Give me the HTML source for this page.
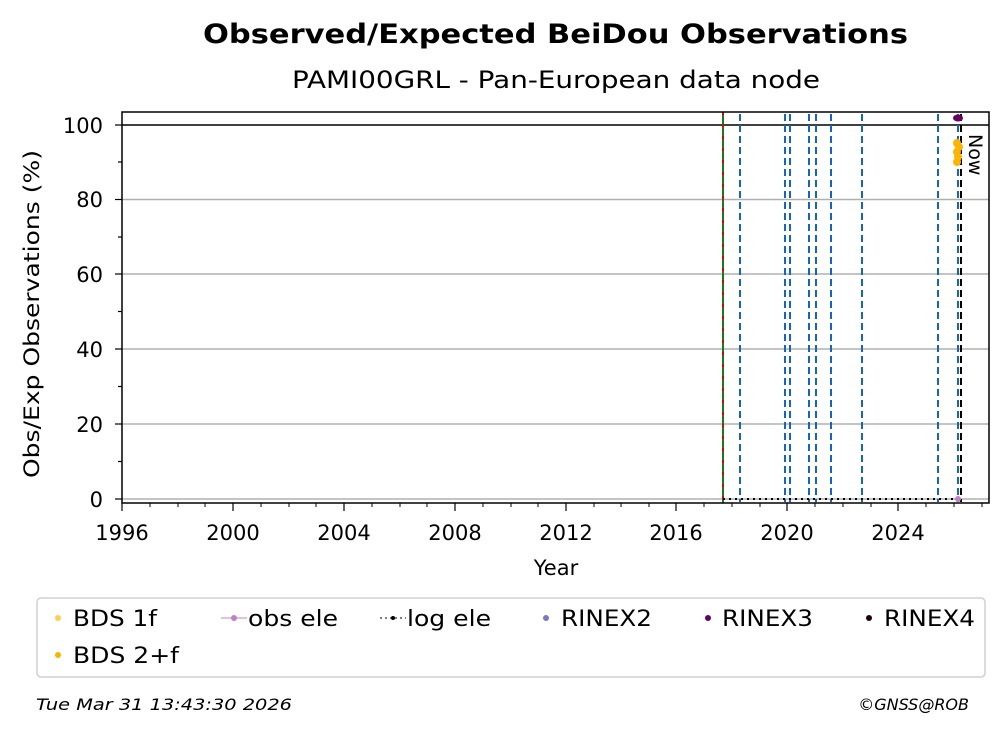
<!DOCTYPE html>
<html><head><meta charset="utf-8"><style>body{margin:0;background:#fff}svg{display:block}text{font-family:"DejaVu Sans","Liberation Sans",sans-serif}</style></head>
<body>
<svg width="1008" height="734" xmlns="http://www.w3.org/2000/svg">
<text x="203" y="43" font-size="27" font-weight="bold" textLength="705" lengthAdjust="spacingAndGlyphs">Observed/Expected BeiDou Observations</text>
<text x="292" y="88" font-size="24" textLength="528" lengthAdjust="spacingAndGlyphs">PAMI00GRL - Pan-European data node</text>
<g stroke="#b0b0b0" stroke-width="1.5">
<line x1="122" x2="989" y1="499" y2="499"/><line x1="122" x2="989" y1="424" y2="424"/><line x1="122" x2="989" y1="349" y2="349"/><line x1="122" x2="989" y1="274" y2="274"/><line x1="122" x2="989" y1="199.5" y2="199.5"/>
</g>
<line x1="122" x2="989" y1="125" y2="125" stroke="#000" stroke-width="1.5"/>
<g stroke="#1565c0" stroke-width="2" stroke-dasharray="7,4">
<line x1="740" x2="740" y1="114" y2="502"/><line x1="785" x2="785" y1="114" y2="502"/><line x1="790" x2="790" y1="114" y2="502"/><line x1="809" x2="809" y1="114" y2="502"/><line x1="816" x2="816" y1="114" y2="502"/><line x1="831" x2="831" y1="114" y2="502"/><line x1="862" x2="862" y1="114" y2="502"/><line x1="938" x2="938" y1="114" y2="502"/><line x1="958" x2="958" y1="114" y2="502"/>
</g>
<line x1="723" x2="723" y1="112" y2="503" stroke="#1a7a1a" stroke-width="2"/>
<line x1="723" x2="723" y1="112" y2="503" stroke="#e00000" stroke-width="2" stroke-dasharray="3,9"/>
<line x1="961" x2="961" y1="114" y2="502" stroke="#000" stroke-width="2" stroke-dasharray="7,4"/>
<line x1="723" x2="960" y1="499" y2="499" stroke="#000" stroke-width="2" stroke-dasharray="2,4"/>
<circle cx="958" cy="499" r="3" fill="#c080c8"/>
<g fill="#fbb400"><circle cx="957" cy="143" r="4"/><circle cx="959" cy="147" r="4"/><circle cx="957" cy="152" r="4"/><circle cx="958" cy="157" r="4"/><circle cx="957" cy="162" r="4"/></g>
<ellipse cx="958" cy="118" rx="5" ry="3.5" fill="#6a0060"/>
<text x="969" y="134" font-size="19" transform="rotate(90 969 134)">Now</text>
<rect x="122" y="112" width="867" height="391" fill="none" stroke="#000" stroke-width="1.5"/>
<g stroke="#000" stroke-width="1.2">
<line x1="115" x2="122" y1="499" y2="499"/><line x1="115" x2="122" y1="424" y2="424"/><line x1="115" x2="122" y1="349" y2="349"/><line x1="115" x2="122" y1="274" y2="274"/><line x1="115" x2="122" y1="199.5" y2="199.5"/><line x1="115" x2="122" y1="125" y2="125"/>
<line x1="118" x2="122" y1="461.5" y2="461.5"/><line x1="118" x2="122" y1="386.5" y2="386.5"/><line x1="118" x2="122" y1="311.5" y2="311.5"/><line x1="118" x2="122" y1="237" y2="237"/><line x1="118" x2="122" y1="162" y2="162"/>
<line x1="122" x2="122" y1="503" y2="511"/><line x1="233" x2="233" y1="503" y2="511"/><line x1="344" x2="344" y1="503" y2="511"/><line x1="455" x2="455" y1="503" y2="511"/><line x1="566" x2="566" y1="503" y2="511"/><line x1="676" x2="676" y1="503" y2="511"/><line x1="787" x2="787" y1="503" y2="511"/><line x1="898" x2="898" y1="503" y2="511"/>
</g>
<g stroke="#000" stroke-width="1">
<path d="M150 503v4M178 503v4M205 503v4M261 503v4M289 503v4M316 503v4M372 503v4M400 503v4M427 503v4M483 503v4M511 503v4M538 503v4M594 503v4M621 503v4M649 503v4M704 503v4M732 503v4M760 503v4M815 503v4M843 503v4M871 503v4M926 503v4M954 503v4M982 503v4"/>
</g>
<g font-size="21" text-anchor="end"><text x="103" y="507">0</text><text x="103" y="432">20</text><text x="103" y="357">40</text><text x="103" y="282">60</text><text x="103" y="207">80</text><text x="103" y="133">100</text></g>
<g font-size="21" text-anchor="middle"><text x="122" y="540">1996</text><text x="233" y="540">2000</text><text x="344" y="540">2004</text><text x="455" y="540">2008</text><text x="566" y="540">2012</text><text x="676" y="540">2016</text><text x="787" y="540">2020</text><text x="898" y="540">2024</text></g>
<text x="556" y="575" font-size="21" text-anchor="middle">Year</text>
<text x="39" y="314" font-size="21" text-anchor="middle" transform="rotate(-90 39 314)" textLength="328" lengthAdjust="spacingAndGlyphs">Obs/Exp Observations (%)</text>
<rect x="37" y="598" width="948" height="79" rx="4" fill="#fff" stroke="#d0d0d0" stroke-width="1.5"/>
<g font-size="22">
<circle cx="58" cy="618" r="3" fill="#fdd24a"/><text x="73" y="626" textLength="84" lengthAdjust="spacingAndGlyphs">BDS 1f</text>
<circle cx="58" cy="655" r="3" fill="#fbb400"/><text x="73" y="663" textLength="106" lengthAdjust="spacingAndGlyphs">BDS 2+f</text>
<line x1="221" x2="247" y1="618" y2="618" stroke="#c080c8"/><circle cx="234" cy="618" r="3" fill="#c080c8"/><text x="248" y="626" textLength="90" lengthAdjust="spacingAndGlyphs">obs ele</text>
<line x1="380" x2="406" y1="618" y2="618" stroke="#000" stroke-dasharray="2,3"/><circle cx="393" cy="618" r="2" fill="#000"/><text x="407" y="626" textLength="84" lengthAdjust="spacingAndGlyphs">log ele</text>
<circle cx="546" cy="618" r="3" fill="#7a78c0"/><text x="561" y="626" textLength="91" lengthAdjust="spacingAndGlyphs">RINEX2</text>
<circle cx="708" cy="618" r="3" fill="#6a0060"/><text x="722" y="626" textLength="91" lengthAdjust="spacingAndGlyphs">RINEX3</text>
<circle cx="869" cy="618" r="3" fill="#200010"/><text x="884" y="626" textLength="91" lengthAdjust="spacingAndGlyphs">RINEX4</text>
</g>
<text x="36" y="710" font-size="16" font-style="italic" textLength="256" lengthAdjust="spacingAndGlyphs">Tue Mar 31 13:43:30 2026</text>
<text x="969" y="710" font-size="16" font-style="italic" text-anchor="end">©GNSS@ROB</text>
</svg>
</body></html>
